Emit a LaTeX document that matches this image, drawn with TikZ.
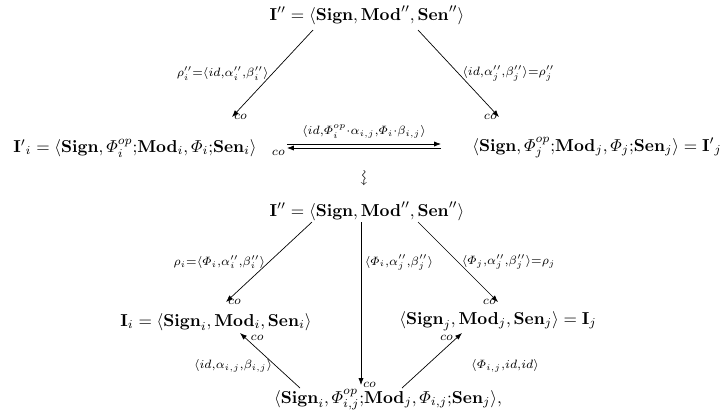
\documentclass[tikz,border=0pt]{standalone}
\usepackage{amsmath,amssymb}
\usepackage{graphicx}
\usetikzlibrary{arrows.meta}

\begin{document}
\begin{tikzpicture}[
    x=0.58pt, y=-0.58pt,
    obj/.style={inner sep=0pt},
    lbl/.style={inner sep=2pt},
    colbl/.style={inner sep=1pt},
    arrow/.style={-{Latex[length=4pt,width=3pt]}, line width=0.4pt}
]
\useasboundingbox (0,0) rectangle (724,418);

% First triangle
\node[obj] (top1) at (367,15) {$\mathbf{I}'' = \langle\mathbf{Sign},\mathbf{Mod}'',\mathbf{Sen}''\rangle$};
\node[obj] (left1) at (135,148) {${\mathbf{I}'}_i = \langle\mathbf{Sign},\varPhi_i^{op}{;}\mathbf{Mod}_i,\varPhi_i{;}\mathbf{Sen}_i\rangle$};
\node[obj] (right1) at (597,148) {$\langle\mathbf{Sign},\varPhi_j^{op}{;}\mathbf{Mod}_j,\varPhi_j{;}\mathbf{Sen}_j\rangle = {\mathbf{I}'}_j$};

% Between the two
\node[obj] (wave) at (363,178) {\rotatebox{-90}{$\leadsto$}};

% Second diagram
\node[obj] (top2) at (367,211) {$\mathbf{I}'' = \langle\mathbf{Sign},\mathbf{Mod}'',\mathbf{Sen}''\rangle$};
\node[obj] (left2) at (216,322) {$\mathbf{I}_i = \langle\mathbf{Sign}_i,\mathbf{Mod}_i,\mathbf{Sen}_i\rangle$};
\node[obj] (right2) at (498,321) {$\langle\mathbf{Sign}_j,\mathbf{Mod}_j,\mathbf{Sen}_j\rangle = \mathbf{I}_j$};
\node[obj] (bottom) at (388,400) {$\langle\mathbf{Sign}_i,\varPhi^{op}_{i,j}{;}\mathbf{Mod}_j,\varPhi_{i,j}{;}\mathbf{Sen}_j\rangle,$};

% Arrows of the first triangle
\draw[arrow] ([shift={(-54,15)}]top1.center) -- ([shift={(97,-31)}]left1.center)
    node[lbl, midway, left] {$\scriptstyle\rho''_i=\langle id,\alpha''_i,\beta''_i\rangle$}
    node[colbl, pos=1, anchor=west] {$\scriptstyle co$};
\draw[arrow] ([shift={(51,15)}]top1.center) -- ([shift={(-98,-31)}]right1.center)
    node[lbl, midway, right] {$\scriptstyle\langle id,\alpha''_j,\beta''_j\rangle=\rho''_j$}
    node[colbl, pos=1, anchor=east] {$\scriptstyle co$};
\draw[arrow] ([shift={(152,-4)}]left1.center) -- ([shift={(-156,-4)}]right1.center)
    node[lbl, midway, above, inner sep=3pt] {$\scriptstyle\langle id,\varPhi_i^{op}\cdot\alpha_{i,j},\varPhi_i\cdot\beta_{i,j}\rangle$};
\draw[arrow] ([shift={(-156,0)}]right1.center) -- ([shift={(152,0)}]left1.center)
    node[colbl, pos=1, anchor=north east] {$\scriptstyle co$};

% Arrows of the second diagram
\draw[arrow] ([shift={(-55,11)}]top2.center) -- ([shift={(10,-20)}]left2.center)
    node[lbl, midway, left] {$\scriptstyle\rho_i=\langle\varPhi_i,\alpha''_i,\beta''_i\rangle$}
    node[colbl, pos=1, anchor=west] {$\scriptstyle co$};
\draw[arrow] ([shift={(-6,11)}]top2.center) -- ([shift={(-27,-15)}]bottom.center)
    node[lbl, pos=0.25, right] {$\scriptstyle\langle\varPhi_i,\alpha''_j,\beta''_j\rangle$}
    node[colbl, pos=1, anchor=west] {$\scriptstyle co$};
\draw[arrow] ([shift={(51,11)}]top2.center) -- ([shift={(0,-19)}]right2.center)
    node[lbl, midway, right] {$\scriptstyle\langle\varPhi_j,\alpha''_j,\beta''_j\rangle=\rho_j$}
    node[colbl, pos=1, anchor=east] {$\scriptstyle co$};
\draw[arrow] ([shift={(-88,-12)}]bottom.center) -- ([shift={(24,11)}]left2.center)
    node[lbl, pos=0.4, left] {$\scriptstyle\langle id,\alpha_{i,j},\beta_{i,j}\rangle$}
    node[colbl, pos=1, anchor=north west, xshift=5pt] {$\scriptstyle co$};
\draw[arrow] ([shift={(14,-12)}]bottom.center) -- ([shift={(-36,12)}]right2.center)
    node[lbl, pos=0.4, right, xshift=24pt] {$\scriptstyle\langle\varPhi_{i,j},id,id\rangle$}
    node[colbl, pos=1, anchor=north east, xshift=-4pt] {$\scriptstyle co$};

\end{tikzpicture}
\end{document}
